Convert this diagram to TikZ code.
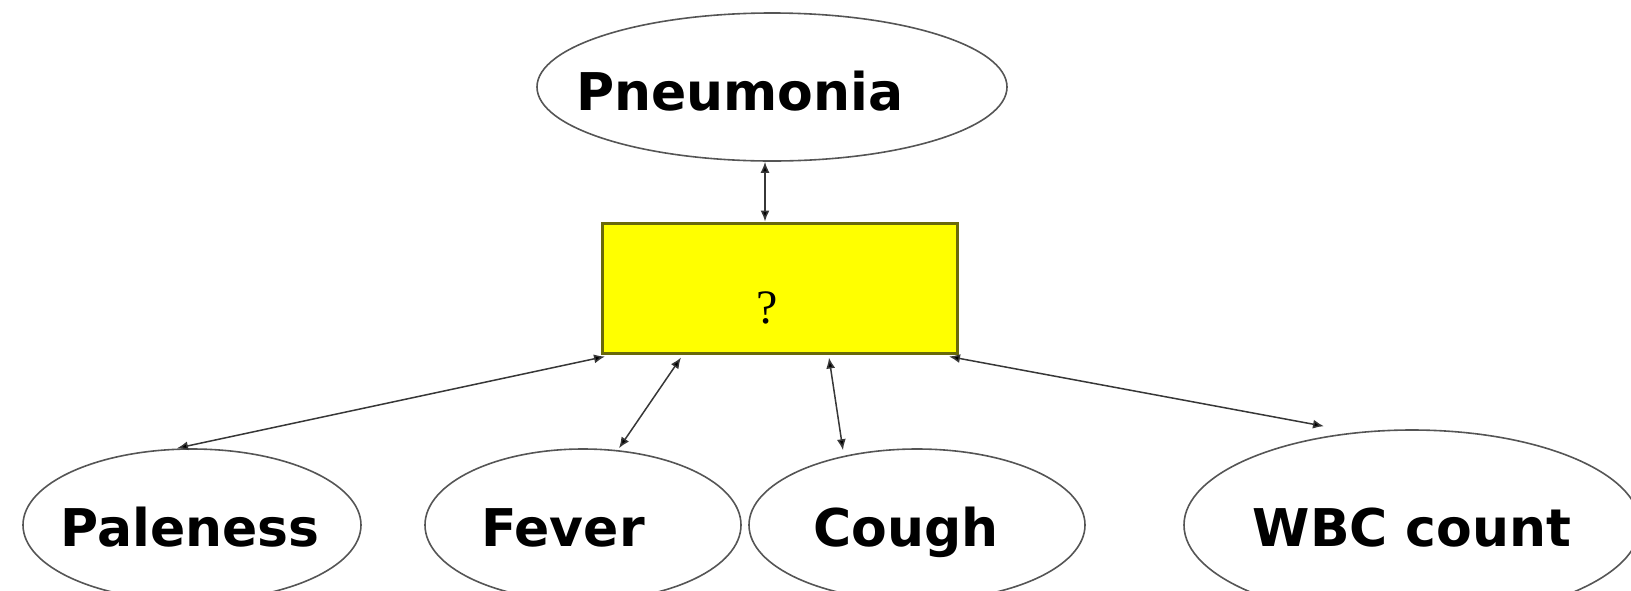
\documentclass[tikz,border=0pt]{standalone}
\usepackage{fontspec}
\newfontfamily\labfont{DejaVu Sans}
\newfontfamily\qfont{Liberation Serif}
\usetikzlibrary{shapes.geometric,arrows.meta}
\definecolor{olivebd}{RGB}{105,105,10}
\definecolor{ellbd}{RGB}{85,85,85}
\definecolor{arrgray}{RGB}{55,55,55}
\definecolor{boxyel}{RGB}{255,255,0}
\newcommand{\ctext}[2]{\makebox[0pt]{\kern#1pt #2}}
\tikzset{
  ell/.style={ellipse, draw=ellbd, line width=1.6pt, inner sep=0pt,
    text height=44pt, text depth=2pt,
    font=\labfont\bfseries\fontsize{52}{60}\selectfont},
  qbox/.style={rectangle, draw=olivebd, fill=boxyel, line width=3pt, inner sep=0pt,
    minimum width=355pt, minimum height=130pt, font=\qfont\fontsize{48}{50}\selectfont},
  dbl/.style={draw=arrgray, line width=1.5pt,
    {Latex[length=11pt,width=9pt,fill=black]}-{Latex[length=11pt,width=9pt,fill=black]}}
}
\begin{document}
\begin{tikzpicture}[x=1pt,y=-1pt]
\useasboundingbox (0,0) rectangle (1631,590);
\node[ell, minimum width=470pt, minimum height=148pt, text height=48pt] (pn) at (772,87) {\ctext{-64}{Pneumonia}};
\node[qbox] (box) at (780,288) {\raisebox{-35pt}[0pt][0pt]{\ctext{-26}{?}}};
\node[ell, minimum width=338pt, minimum height=152pt] (pal) at (192,525) {\ctext{-4}{Paleness}};
\node[ell, minimum width=316pt, minimum height=152pt] (fev) at (583,525) {\ctext{-40}{Fever}};
\node[ell, minimum width=336pt, minimum height=152pt] (cou) at (917,525) {\ctext{-22}{Cough}};
\node[ell, minimum width=456pt, minimum height=190pt] (wbc) at (1412,525) {\ctext{0}{WBC count}};
\draw[dbl] ([xshift=-15pt]box.north) -- ([xshift=-15pt]box.north |- pn.south);
\draw[dbl] ([xshift=4pt,yshift=-2pt]box.south west) -- ([xshift=-15pt]pal.north);
\draw[dbl] ([xshift=-99pt,yshift=-3pt]box.south) -- ([xshift=36pt]fev.north);
\draw[dbl] ([xshift=49pt,yshift=-3pt]box.south) -- ([xshift=-74pt,yshift=-2pt]cou.north);
\draw[dbl] ([xshift=-10pt,yshift=-2pt]box.south east) -- ([xshift=-88pt,yshift=3pt]wbc.north);
\end{tikzpicture}
\end{document}
